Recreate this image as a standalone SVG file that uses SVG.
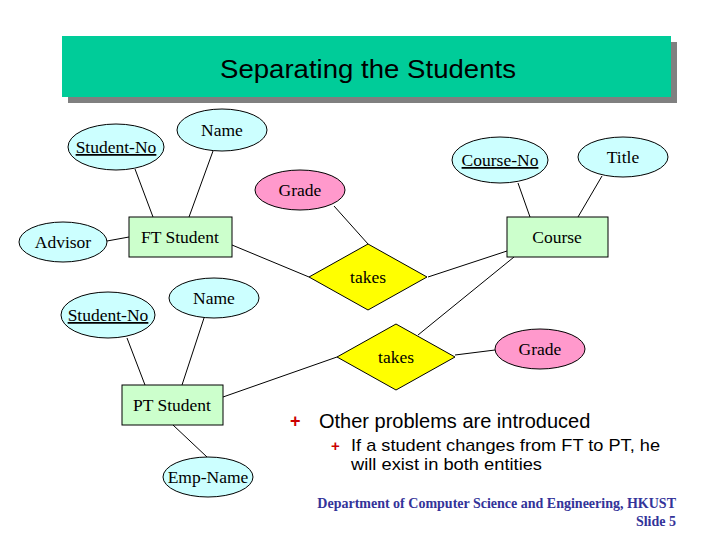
<svg xmlns="http://www.w3.org/2000/svg" width="720" height="540" viewBox="0 0 720 540">
<style>
.attr{fill:#ccffff;stroke:#000;stroke-width:1}
.grade{fill:#ff99cc;stroke:#000;stroke-width:1}
.ent{fill:#ccffcc;stroke:#000;stroke-width:1}
.rel{fill:#ffff00;stroke:#000;stroke-width:1}
.lbl{font-family:"Liberation Serif","Times New Roman",serif;font-size:17.5px;fill:#000;text-anchor:middle}
.key{text-decoration:underline}
.con line{stroke:#000;stroke-width:1}
.bul{font-family:"Liberation Sans",Arial,sans-serif;fill:#000}
.plus{fill:#cc0000;font-family:"Liberation Sans",Arial,sans-serif;font-weight:bold}
.foot{font-family:"Liberation Serif","Times New Roman",serif;font-weight:bold;font-size:14px;fill:#333399;text-anchor:end}
</style>
<rect width="720" height="540" fill="#fff"/>
<g id="title">
<rect x="68" y="42" width="609" height="61" fill="#808080"/>
<rect x="62" y="36" width="609" height="61" fill="#00cc99"/>
<text x="220" y="78" font-family="Liberation Sans,Arial,sans-serif" font-size="26" textLength="296" lengthAdjust="spacingAndGlyphs" fill="#000">Separating the Students</text>
</g>
<g class="con" id="connectors">
<line x1="135" y1="169" x2="153" y2="217"/>
<line x1="213" y1="151" x2="189" y2="217"/>
<line x1="107" y1="241" x2="129" y2="237"/>
<line x1="232" y1="245" x2="309" y2="277"/>
<line x1="334" y1="206" x2="368" y2="244"/>
<line x1="518" y1="183" x2="530" y2="217"/>
<line x1="602" y1="176" x2="578" y2="217"/>
<line x1="507" y1="251" x2="428" y2="277"/>
<line x1="514" y1="257" x2="418" y2="335"/>
<line x1="455" y1="355" x2="495" y2="350"/>
<line x1="223" y1="397" x2="337" y2="357"/>
<line x1="127" y1="338" x2="145" y2="385"/>
<line x1="204" y1="318" x2="182" y2="385"/>
<line x1="173" y1="425" x2="207" y2="457"/>
</g>
<g id="studentno1"><ellipse class="attr" cx="116" cy="147" rx="48" ry="23"/><text class="lbl key" x="116" y="153">Student-No</text></g>
<g id="name1"><ellipse class="attr" cx="222" cy="130" rx="45" ry="21"/><text class="lbl" x="222" y="136">Name</text></g>
<g id="grade1"><ellipse class="grade" cx="300" cy="190" rx="45" ry="20"/><text class="lbl" x="300" y="196">Grade</text></g>
<g id="advisor"><ellipse class="attr" cx="63" cy="242" rx="44" ry="20"/><text class="lbl" x="63" y="248">Advisor</text></g>
<g id="ftstudent"><rect class="ent" x="129" y="217" width="103" height="40"/><text class="lbl" x="180" y="243">FT Student</text></g>
<g id="courseno"><ellipse class="attr" cx="500" cy="160" rx="48" ry="23"/><text class="lbl key" x="500" y="166">Course-No</text></g>
<g id="titleattr"><ellipse class="attr" cx="623" cy="157" rx="45" ry="20"/><text class="lbl" x="623" y="163">Title</text></g>
<g id="course"><rect class="ent" x="507" y="217" width="101" height="40"/><text class="lbl" x="557" y="243">Course</text></g>
<g id="takes1"><polygon class="rel" points="368,244 427,277 368,310 309,277"/><text class="lbl" x="368" y="283">takes</text></g>
<g id="studentno2"><ellipse class="attr" cx="108" cy="315" rx="47" ry="23"/><text class="lbl key" x="108" y="321">Student-No</text></g>
<g id="name2"><ellipse class="attr" cx="214" cy="298" rx="45" ry="20"/><text class="lbl" x="214" y="304">Name</text></g>
<g id="takes2"><polygon class="rel" points="396,324 455,357 396,390 337,357"/><text class="lbl" x="396" y="363">takes</text></g>
<g id="grade2"><ellipse class="grade" cx="540" cy="349" rx="45" ry="20"/><text class="lbl" x="540" y="355">Grade</text></g>
<g id="ptstudent"><rect class="ent" x="122" y="385" width="101" height="40"/><text class="lbl" x="172" y="411">PT Student</text></g>
<g id="empname"><ellipse class="attr" cx="208" cy="477" rx="45" ry="20"/><text class="lbl" x="208" y="483">Emp-Name</text></g>
<g id="bullets">
<text class="plus" x="290" y="427" font-size="18">+</text>
<text class="bul" x="319" y="428" font-size="20">Other problems are introduced</text>
<text class="plus" x="331" y="451" font-size="15">+</text>
<text class="bul" x="351" y="451" font-size="17" textLength="309" lengthAdjust="spacingAndGlyphs">If a student changes from FT to PT, he</text>
<text class="bul" x="351" y="470" font-size="17" textLength="191" lengthAdjust="spacingAndGlyphs">will exist in both entities</text>
</g>
<g id="footer">
<text class="foot" x="676" y="508">Department of Computer Science and Engineering, HKUST</text>
<text class="foot" x="676" y="526">Slide 5</text>
</g>
</svg>
